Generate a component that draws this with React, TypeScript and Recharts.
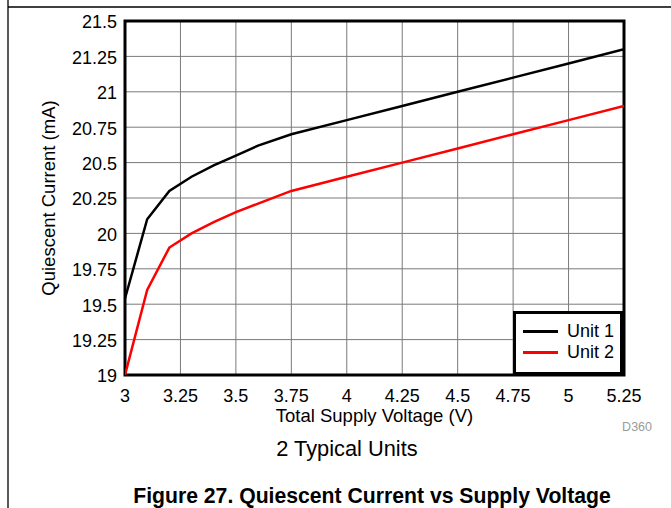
import React from 'react';
import {
  LineChart,
  Line,
  XAxis,
  YAxis,
  CartesianGrid,
  Legend,
  ReferenceArea,
} from 'recharts';

// Supply voltage sweep (V) and measured quiescent current (mA)
const voltage = [3, 3.1, 3.2, 3.3, 3.4, 3.5, 3.6, 3.75, 4, 4.25, 4.5, 4.75, 5, 5.25];
const unit1 = [19.54, 20.1, 20.3, 20.4, 20.48, 20.55, 20.62, 20.7, 20.8, 20.9, 21.0, 21.1, 21.2, 21.3];
const unit2 = [19.0, 19.6, 19.9, 20.0, 20.08, 20.15, 20.21, 20.3, 20.4, 20.5, 20.6, 20.7, 20.8, 20.9];

const xTicks = [3, 3.25, 3.5, 3.75, 4, 4.25, 4.5, 4.75, 5, 5.25];
const yTicks = [19, 19.25, 19.5, 19.75, 20, 20.25, 20.5, 20.75, 21, 21.25, 21.5];

const data = voltage.map((v, i) => ({ v, unit1: unit1[i], unit2: unit2[i] }));

const FONT = '"Liberation Sans", Arial, sans-serif';

const LegendBox = (props: any) => {
  const items = props.payload || [];
  return (
    <div
      style={{
        width: 104,
        height: 51,
        border: '3px solid #000',
        background: '#fff',
        boxSizing: 'content-box',
        fontFamily: FONT,
        fontSize: 18,
        paddingTop: 7,
      }}
    >
      {items.map((it: any) => (
        <div key={it.value} style={{ display: 'flex', alignItems: 'center', height: 21 }}>
          <span
            style={{
              display: 'inline-block',
              width: 35,
              height: 3,
              background: it.color,
              marginLeft: 7,
              marginRight: 9,
            }}
          />
          <span style={{ color: '#000' }}>{it.value}</span>
        </div>
      ))}
    </div>
  );
};

export default function App() {
  return (
    <div style={{ position: 'absolute', left: 0, top: 0, width: 671, height: 508, background: '#fff' }}>
      <LineChart
        width={671}
        height={508}
        data={data}
        margin={{ top: 21, right: 47, bottom: 103, left: 0 }}
        style={{ fontFamily: FONT }}
      >
        <CartesianGrid stroke="#7a7a7a" strokeWidth={1} />
        <XAxis
          type="number"
          dataKey="v"
          domain={[3, 5.25]}
          ticks={xTicks}
          allowDataOverflow
          axisLine={false}
          tickLine={false}
          tickSize={0}
          tickMargin={14}
          height={30}
          tick={{ fill: '#000', fontSize: 18 }}
          label={{
            value: 'Total Supply Voltage (V)',
            position: 'bottom',
            offset: 4,
            fill: '#000',
            fontSize: 18.5,
          }}
        />
        <YAxis
          type="number"
          domain={[19, 21.5]}
          ticks={yTicks}
          allowDataOverflow
          axisLine={false}
          tickLine={false}
          tickSize={0}
          tickMargin={8}
          width={125}
          tick={{ fill: '#000', fontSize: 18, dy: 1 }}
          label={{
            value: 'Quiescent Current (mA)',
            angle: -90,
            position: 'center',
            dx: -14,
            fill: '#000',
            fontSize: 18.5,
          }}
        />
        <Line
          type="linear"
          dataKey="unit1"
          name="Unit 1"
          stroke="#000"
          strokeWidth={2.5}
          dot={false}
          isAnimationActive={false}
        />
        <Line
          type="linear"
          dataKey="unit2"
          name="Unit 2"
          stroke="#ff0000"
          strokeWidth={2.5}
          dot={false}
          isAnimationActive={false}
        />
        <ReferenceArea
          x1={3}
          x2={5.25}
          y1={19}
          y2={21.5}
          fill="none"
          stroke="#000"
          strokeWidth={3}
          ifOverflow="visible"
        />
        <Legend
          layout="vertical"
          verticalAlign="middle"
          align="center"
          content={LegendBox}
          wrapperStyle={{ position: 'absolute', left: 513, top: 311, width: 'auto' }}
        />
      </LineChart>
      <svg
        width={671}
        height={508}
        style={{ position: 'absolute', left: 0, top: 0, pointerEvents: 'none', fontFamily: FONT }}
      >
        <line x1={8} y1={0} x2={8} y2={508} stroke="#000" strokeWidth={1.3} />
        <line x1={8} y1={7} x2={671} y2={7} stroke="#000" strokeWidth={1.3} />
        <text x={652} y={431} textAnchor="end" fill="#9a9a9a" fontSize={12.5}>
          D360
        </text>
        <text x={347} y={456} textAnchor="middle" fill="#000" fontSize={21.8}>
          2 Typical Units
        </text>
        <text x={372} y={503} textAnchor="middle" fill="#000" fontSize={21.2} fontWeight="bold">
          Figure 27. Quiescent Current vs Supply Voltage
        </text>
      </svg>
    </div>
  );
}
